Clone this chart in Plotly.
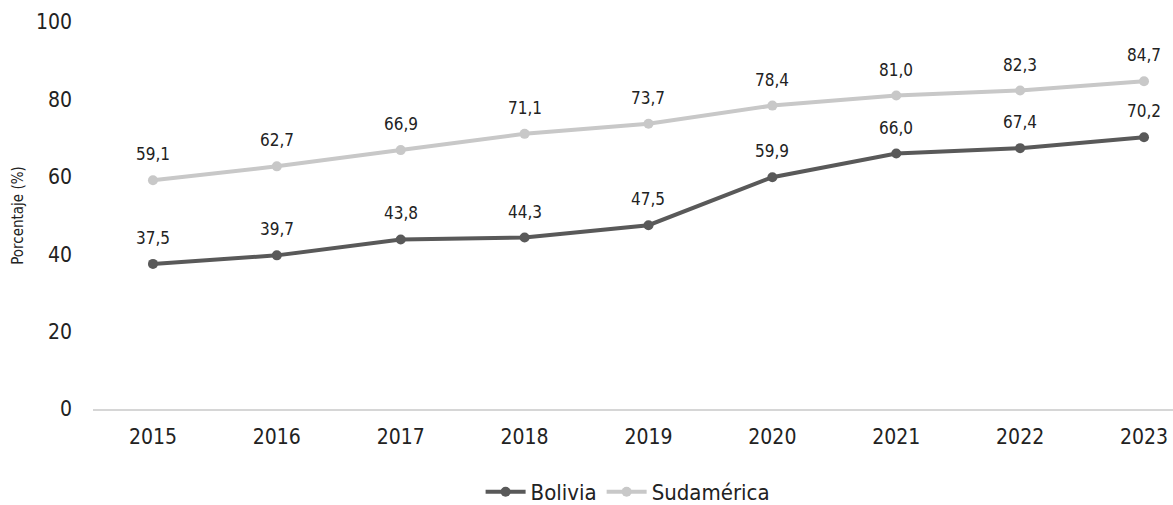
import plotly.graph_objects as go

years = [2015, 2016, 2017, 2018, 2019, 2020, 2021, 2022, 2023]
bolivia = [37.5, 39.7, 43.8, 44.3, 47.5, 59.9, 66.0, 67.4, 70.2]
sudamerica = [59.1, 62.7, 66.9, 71.1, 73.7, 78.4, 81.0, 82.3, 84.7]
y_ticks = [0, 20, 40, 60, 80, 100]

FONT = "Liberation Sans Narrow, DejaVu Sans Condensed, Roboto Condensed, Liberation Sans, sans-serif"
C_BOL = "#595959"
C_SUD = "#c8c8c8"
TXT = "#222222"

fig = go.Figure()
fig.add_trace(go.Scatter(x=years, y=bolivia, name="Bolivia", mode="lines+markers",
                         line=dict(color=C_BOL, width=4), marker=dict(color=C_BOL, size=10)))
fig.add_trace(go.Scatter(x=years, y=sudamerica, name="Sudamérica", mode="lines+markers",
                         line=dict(color=C_SUD, width=4), marker=dict(color=C_SUD, size=10)))

def fmt(v):
    return f"{v:.1f}".replace(".", ",")

annotations = []
for series in (bolivia, sudamerica):
    for x, v in zip(years, series):
        annotations.append(dict(x=x, y=v, text=fmt(v), showarrow=False, yshift=26,
                                font=dict(family=FONT, size=17, color=TXT)))

fig.update_layout(
    width=1173, height=505,
    margin=dict(l=93, r=0, t=22, b=96, autoexpand=False),
    paper_bgcolor="white", plot_bgcolor="white",
    font=dict(family=FONT, color=TXT),
    annotations=annotations,
    showlegend=True,
    legend=dict(orientation="h", x=0.495, xanchor="center", yref="container", y=0.026, yanchor="middle",
                font=dict(family=FONT, size=22, color=TXT), itemwidth=40,
                traceorder="normal"),
    xaxis=dict(range=[2014.516, 2023.234], tickmode="array", tickvals=years,
               ticktext=[str(y) for y in years], showgrid=False, zeroline=False,
               showline=True, linecolor="#d6d6d6", linewidth=2, automargin=False,
               tickfont=dict(family=FONT, size=21, color=TXT),
               ticks="outside", ticklen=8, tickcolor="rgba(0,0,0,0)"),
    yaxis=dict(range=[0, 100], tickmode="array", tickvals=y_ticks, showgrid=False,
               zeroline=False, showline=False, automargin=False,
               tickfont=dict(family=FONT, size=21, color=TXT),
               ticklabelstandoff=20,
               title=dict(text="Porcentaje (%)", font=dict(family=FONT, size=15, color=TXT),
                          standoff=8)),
)

fig.write_html("out.html", config={"displayModeBar": False},
               post_script="document.body.style.margin='0';document.body.style.overflow='hidden';")
